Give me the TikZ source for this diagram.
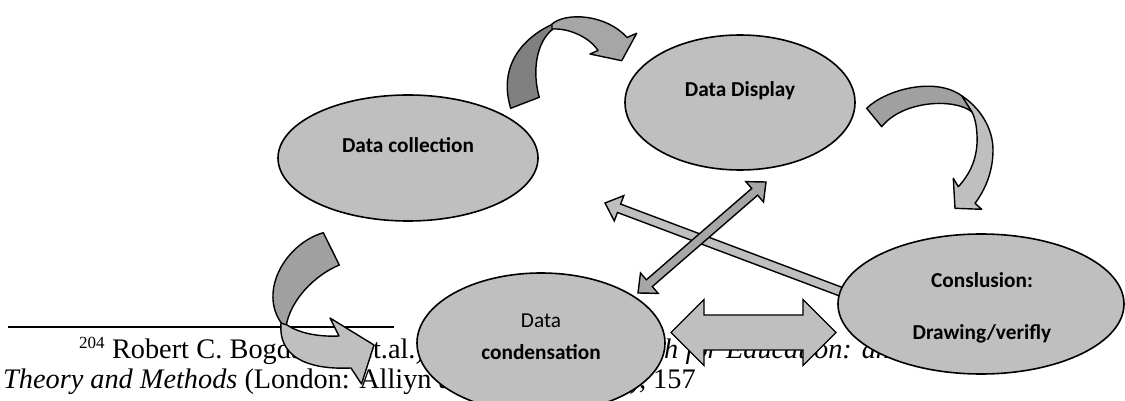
\documentclass[tikz,border=0pt]{standalone}
\usepackage{fontspec}
\setmainfont{Liberation Serif}
\newfontfamily\calibri{Carlito}
\usetikzlibrary{shapes.geometric,calc}

\definecolor{shapegray}{HTML}{BFBFBF}
\definecolor{midgray}{HTML}{A6A6A6}
\definecolor{backgray}{HTML}{A0A0A0}
\definecolor{deepgray}{HTML}{808080}

\tikzset{
  stage/.style={ellipse, draw=black, line width=1.6pt, fill=shapegray, inner sep=0pt},
  stagetext/.style={anchor=base, inner sep=0pt, font=\calibri\fontsize{21.3}{25}\selectfont\bfseries},
  plaintext/.style={anchor=base, inner sep=0pt, font=\calibri\fontsize{21.3}{25}\selectfont},
  blockarrow/.style={draw=black, line width=1.4pt, line join=miter, fill=#1},
  ribbon/.style={draw=black, line width=1.4pt, line join=round, fill=#1},
  footline/.style={anchor=base west, inner sep=0pt, font=\fontsize{28.3}{34}\selectfont},
}

\begin{document}
\begin{tikzpicture}[x=1pt,y=-1pt]
\useasboundingbox (0,0) rectangle (1125,401);
\fill[white] (0,0) rectangle (1125,401);

% footnote rule and citation
\coordinate (rulea) at (8,327);
\coordinate (ruleb) at (394,327);
\draw[line width=2.2pt] (rulea) -- (ruleb);
\node[footline] (fn1) at (79,358) {\makebox[988pt][s]{\raisebox{0.33em}{\fontsize{17}{17}\selectfont 204} Robert C. Bogdan\hspace{26pt} (et.al.), \textit{Qualitative Research for Education: an Introduction to}}};
\node[footline] (fn2) at (3,388) {\textit{Theory and Methods} (London: Alliyn and Bacon, 1998), 157};

% light single arrow (conclusion -> collection), tail hidden under the ellipse
\coordinate (lt) at (846.5,293.8);
\coordinate (lh) at (605,203);
\coordinate (lb) at ($(lh)!15pt!(lt)$);
\draw[blockarrow=shapegray] (lh) -- ($(lb)!13.5pt!90:(lh)$) -- ($(lb)!4.5pt!90:(lh)$)
  -- ($(lt)!4.5pt!90:(lh)$) -- ($(lt)!4.5pt!-90:(lh)$)
  -- ($(lb)!4.5pt!-90:(lh)$) -- ($(lb)!13.5pt!-90:(lh)$) -- cycle;

% the four stages
\node[stage, minimum width=260pt, minimum height=126pt] (coll) at (408,158) {};
\node[stage, minimum width=230pt, minimum height=135pt] (disp) at (740,102.5) {};
\node[stage, minimum width=248pt, minimum height=140pt] (cond) at (541,343) {};
\node[stage, minimum width=286pt, minimum height=140pt] (conc) at (981,304) {};

% dark double arrow (condensation <-> display)
\coordinate (da) at (638,293);
\coordinate (db) at (766,182);
\coordinate (dha) at ($(da)!15pt!(db)$);
\coordinate (dhb) at ($(db)!15pt!(da)$);
\draw[blockarrow=midgray] (db) -- ($(dhb)!13.5pt!90:(db)$) -- ($(dhb)!4.5pt!90:(db)$)
  -- ($(dha)!4.5pt!-90:(da)$) -- ($(dha)!13.5pt!-90:(da)$) -- (da)
  -- ($(dha)!13.5pt!90:(da)$) -- ($(dha)!4.5pt!90:(da)$)
  -- ($(dhb)!4.5pt!-90:(db)$) -- ($(dhb)!13.5pt!-90:(db)$) -- cycle;

% horizontal double arrow (condensation <-> conclusion)
\coordinate (ha) at (671,332.5);
\coordinate (hb) at (836,332.5);
\draw[blockarrow=shapegray] (ha) -- ($(ha)+(33,-33)$) -- ($(ha)+(33,-17.5)$)
  -- ($(hb)+(-33,-17.5)$) -- ($(hb)+(-33,-33)$) -- (hb)
  -- ($(hb)+(-33,33)$) -- ($(hb)+(-33,17.5)$)
  -- ($(ha)+(33,17.5)$) -- ($(ha)+(33,33)$) -- cycle;

% curved arrow: collection -> display
\draw[ribbon=deepgray] (510.7,108.3) .. controls (499,70) and (518,40) .. (553,24)
  -- (553,29) .. controls (536,42) and (532,72) .. (539.3,97.3) -- cycle;
\draw[ribbon=midgray] (552,24) .. controls (566,12) and (606,14) .. (627,37.5)
  -- (636.7,33.3) -- (621.7,60.7) -- (590,54) -- (598,50.5)
  .. controls (590,38) and (570,28) .. (552,29) -- cycle;

% curved arrow: display -> conclusion
\draw[ribbon=backgray] (866.7,108.3) .. controls (885,90) and (935,76) .. (962,96)
  -- (972,112) .. controls (955,98) and (903,100) .. (881.7,126.7) -- cycle;
\draw[ribbon=shapegray] (962,96) .. controls (980,108) and (993,128) .. (993,150)
  .. controls (993,172) and (985,190) .. (975,203.3)
  -- (981.7,209.3) -- (955,208.3) -- (953.3,178.3) -- (958.3,186.7)
  .. controls (972,172) and (978,155) .. (977,135)
  .. controls (976.5,125) and (975,118) .. (972,112) -- cycle;

% curved arrow: collection -> condensation
\draw[ribbon=backgray] (323.3,232.7) .. controls (285,244) and (258,292) .. (282,324)
  -- (286,327) .. controls (290,300) and (315,275) .. (339.3,265) -- cycle;
\draw[ribbon=shapegray] (281,323) .. controls (278,356) and (306,370) .. (351,368)
  -- (361.5,384) -- (374,345) -- (330,318) -- (339,336)
  .. controls (318,337) and (299,333) .. (287,325) -- cycle;

% stage labels
\node[stagetext] (lcoll) at (408,153) {Data collection};
\node[stagetext] (ldisp) at (740,97) {Data Display};
\node[stagetext] (lconc1) at (982,287) {Conslusion:};
\node[stagetext] (lconc2) at (982,339) {Drawing/verifly};
\node[plaintext] (lcond1) at (541,327) {Data};
\node[stagetext] (lcond2) at (541,359) {condensation};
\end{tikzpicture}
\end{document}
